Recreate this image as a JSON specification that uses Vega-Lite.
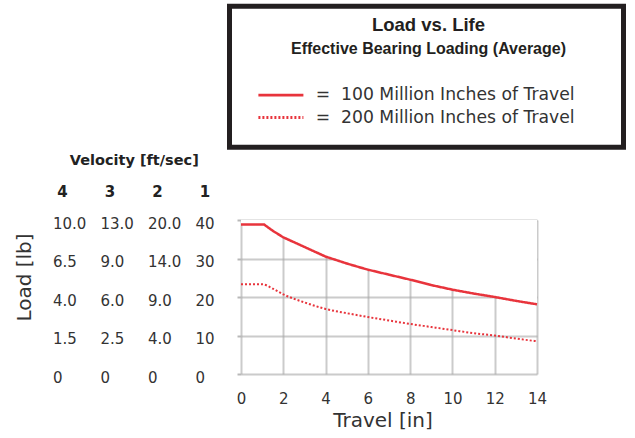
{
  "$schema": "https://vega.github.io/schema/vega-lite/v6.json",
  "padding": {"left": 14, "top": 3, "right": 8, "bottom": 8},
  "background": "white",
  "datasets": {
    "curves": [
      {"series": "100 Million Inches of Travel", "travel": 0, "load": 38.8},
      {"series": "100 Million Inches of Travel", "travel": 1.1, "load": 38.8},
      {"series": "100 Million Inches of Travel", "travel": 1.5, "load": 37.2},
      {"series": "100 Million Inches of Travel", "travel": 2, "load": 35.5},
      {"series": "100 Million Inches of Travel", "travel": 3, "load": 33.0},
      {"series": "100 Million Inches of Travel", "travel": 4, "load": 30.5},
      {"series": "100 Million Inches of Travel", "travel": 5, "load": 28.7},
      {"series": "100 Million Inches of Travel", "travel": 6, "load": 27.1},
      {"series": "100 Million Inches of Travel", "travel": 7, "load": 25.8},
      {"series": "100 Million Inches of Travel", "travel": 8, "load": 24.5},
      {"series": "100 Million Inches of Travel", "travel": 9, "load": 23.1},
      {"series": "100 Million Inches of Travel", "travel": 10, "load": 21.9},
      {"series": "100 Million Inches of Travel", "travel": 11, "load": 20.9},
      {"series": "100 Million Inches of Travel", "travel": 12, "load": 20.0},
      {"series": "100 Million Inches of Travel", "travel": 13, "load": 19.0},
      {"series": "100 Million Inches of Travel", "travel": 14, "load": 18.1},
      {"series": "200 Million Inches of Travel", "travel": 0, "load": 23.3},
      {"series": "200 Million Inches of Travel", "travel": 1.0, "load": 23.3},
      {"series": "200 Million Inches of Travel", "travel": 1.5, "load": 22.2},
      {"series": "200 Million Inches of Travel", "travel": 2, "load": 20.7},
      {"series": "200 Million Inches of Travel", "travel": 3, "load": 18.6},
      {"series": "200 Million Inches of Travel", "travel": 4, "load": 16.9},
      {"series": "200 Million Inches of Travel", "travel": 5, "load": 15.8},
      {"series": "200 Million Inches of Travel", "travel": 6, "load": 14.8},
      {"series": "200 Million Inches of Travel", "travel": 7, "load": 13.9},
      {"series": "200 Million Inches of Travel", "travel": 8, "load": 13.0},
      {"series": "200 Million Inches of Travel", "travel": 9, "load": 12.2},
      {"series": "200 Million Inches of Travel", "travel": 10, "load": 11.4},
      {"series": "200 Million Inches of Travel", "travel": 11, "load": 10.6},
      {"series": "200 Million Inches of Travel", "travel": 12, "load": 10.0},
      {"series": "200 Million Inches of Travel", "travel": 13, "load": 9.2},
      {"series": "200 Million Inches of Travel", "travel": 14, "load": 8.5}
    ],
    "velocity": [
      {"velocity": "4", "ref_load": 40, "load": "10.0"},
      {"velocity": "4", "ref_load": 30, "load": "6.5"},
      {"velocity": "4", "ref_load": 20, "load": "4.0"},
      {"velocity": "4", "ref_load": 10, "load": "1.5"},
      {"velocity": "4", "ref_load": 0, "load": "0"},
      {"velocity": "3", "ref_load": 40, "load": "13.0"},
      {"velocity": "3", "ref_load": 30, "load": "9.0"},
      {"velocity": "3", "ref_load": 20, "load": "6.0"},
      {"velocity": "3", "ref_load": 10, "load": "2.5"},
      {"velocity": "3", "ref_load": 0, "load": "0"},
      {"velocity": "2", "ref_load": 40, "load": "20.0"},
      {"velocity": "2", "ref_load": 30, "load": "14.0"},
      {"velocity": "2", "ref_load": 20, "load": "9.0"},
      {"velocity": "2", "ref_load": 10, "load": "4.0"},
      {"velocity": "2", "ref_load": 0, "load": "0"},
      {"velocity": "1", "ref_load": 40, "load": "40"},
      {"velocity": "1", "ref_load": 30, "load": "30"},
      {"velocity": "1", "ref_load": 20, "load": "20"},
      {"velocity": "1", "ref_load": 10, "load": "10"},
      {"velocity": "1", "ref_load": 0, "load": "0"}
    ]
  },
  "spacing": 21,
  "hconcat": [
    {
      "width": 161.5,
      "height": 154,
      "data": {"name": "velocity"},
      "mark": {"type": "text", "align": "left", "baseline": "middle", "dy": 3.5, "font": "DejaVu Sans", "fontSize": 15, "color": "#333333"},
      "encoding": {
        "x": {
          "field": "velocity", "type": "nominal", "sort": ["4", "3", "2", "1"], "bandPosition": 0,
          "scale": {"type": "band", "paddingInner": 0.6, "paddingOuter": 0},
          "axis": {
            "orient": "top", "title": "Velocity [ft/sec]", "labelAngle": 0, "ticks": false, "tickSize": 0, "domain": false, "grid": false,
            "bandPosition": 0.78,
            "labelFont": "DejaVu Sans", "labelFontWeight": "bold", "labelFontSize": 15, "labelColor": "#222222", "labelPadding": 20.5,
            "titleFont": "DejaVu Sans", "titleFontWeight": "bold", "titleFontSize": 14.5, "titleColor": "#222222", "titlePadding": 17.5
          }
        },
        "y": {
          "field": "ref_load", "type": "quantitative", "scale": {"domain": [0, 40]},
          "axis": {
            "title": "Load [lb]", "labels": false, "ticks": false, "tickSize": 0, "domain": false, "grid": false,
            "titleFont": "DejaVu Sans", "titleFontSize": 20, "titleFontWeight": "normal", "titleColor": "#333333", "titlePadding": 19,
            "titleY": 57
          }
        },
        "text": {"field": "load", "type": "nominal"}
      }
    },
    {
      "width": 296,
      "height": 154,
      "title": {
        "text": "Load vs. Life",
        "subtitle": "Effective Bearing Loading (Average)",
        "font": "Liberation Sans", "fontSize": 18.5, "fontWeight": "bold", "color": "#231f20",
        "subtitleFont": "Liberation Sans", "subtitleFontSize": 16, "subtitleFontWeight": "bold", "subtitleColor": "#231f20",
        "subtitlePadding": 6.5,
        "anchor": "middle", "frame": "group", "offset": 162, "dx": 39.5
      },
      "data": {"name": "curves"},
      "encoding": {
        "x": {
          "field": "travel", "type": "quantitative", "scale": {"domain": [0, 14], "nice": false},
          "axis": {
            "title": "Travel [in]", "values": [0, 2, 4, 6, 8, 10, 12, 14], "grid": true, "ticks": false, "tickSize": 0, "domain": false,
            "gridColor": "#a8a8a8", "gridOpacity": 0.6, "gridWidth": 2,
            "labelFont": "DejaVu Sans", "labelFontSize": 15, "labelColor": "#333333", "labelPadding": 17.5, "labelFlush": false,
            "titleFont": "DejaVu Sans", "titleFontSize": 20, "titleFontWeight": "normal", "titleColor": "#333333", "titlePadding": 3.5,
            "titleX": 141.5
          }
        },
        "y": {
          "field": "load", "type": "quantitative", "scale": {"domain": [0, 40], "nice": false},
          "axis": {
            "title": null, "values": [0, 10, 20, 30, 40], "labels": false, "ticks": true, "tickSize": 4, "tickColor": "#b8b8b8", "tickWidth": 2,
            "domain": false, "grid": true, "gridColor": "#a8a8a8", "gridOpacity": 0.6, "gridWidth": 2
          }
        }
      },
      "layer": [
        {
          "transform": [{"filter": "datum.series === '100 Million Inches of Travel'"}],
          "mark": {"type": "area", "color": "white", "opacity": 1},
          "encoding": {"y2": {"datum": 40}}
        },
        {
          "transform": [{"filter": "datum.series === '100 Million Inches of Travel'"}],
          "mark": {"type": "line", "color": "#e8343c", "strokeWidth": 2.5, "interpolate": "linear"},
          "encoding": {
            "strokeDash": {
              "field": "series", "type": "nominal",
              "scale": {"domain": ["100 Million Inches of Travel", "200 Million Inches of Travel"], "range": [[1, 0], [2, 2]]},
              "legend": {
                "orient": "none", "legendX": 176.5, "legendY": -213.8,
                "title": [" ", " "], "titleFontSize": 14, "titleLineHeight": 24, "titlePadding": 21.3,
                "padding": 21, "strokeColor": "#231f20",
                "symbolType": "M-4.5,0H4.5", "symbolSize": 100, "symbolStrokeColor": "#e8343c", "symbolFillColor": "transparent", "symbolStrokeWidth": 2.8, "symbolOffset": 21.8,
                "labelFont": "DejaVu Sans", "labelFontSize": 17.2, "labelColor": "#333333", "labelOffset": 26.2, "labelLimit": 500,
                "labelExpr": "'=\u00a0\u00a0' + datum.label + '\u00a0\u00a0\u00a0\u00a0\u00a0\u200b'",
                "rowPadding": 4.4
              }
            }
          }
        },
        {
          "transform": [{"filter": "datum.series === '200 Million Inches of Travel'"}],
          "mark": {"type": "line", "color": "#e8343c", "strokeWidth": 2, "interpolate": "monotone"},
          "encoding": {
            "strokeDash": {"field": "series", "type": "nominal"}
          }
        }
      ]
    }
  ],
  "config": {
    "view": {"stroke": null},
    "legend": {"strokeWidth": 5}
  }
}
